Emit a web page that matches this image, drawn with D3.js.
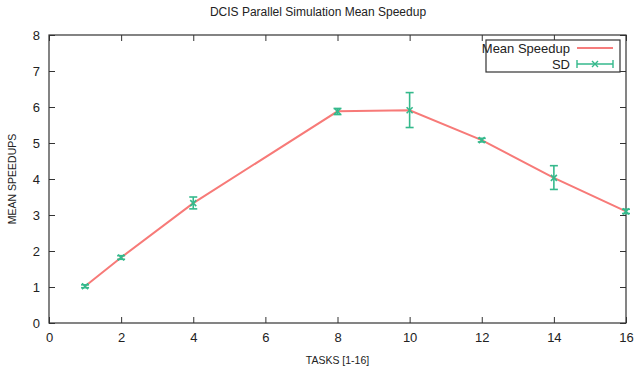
<!DOCTYPE html>
<html>
<head>
<meta charset="utf-8">
<script src="https://cdn.jsdelivr.net/npm/d3@7"></script>
<style>
  body { margin: 0; background: #fff; }
  text { font-family: "Liberation Sans", Arial, sans-serif; fill: #222; }
</style>
</head>
<body>
<svg id="chart"></svg>
<script>
var viewWidth = 634;
var viewHeight = 373;

// data
var tasks = [1, 2, 4, 8, 10, 12, 14, 16];
var meanSpeedup = [1.02, 1.82, 3.33, 5.88, 5.91, 5.08, 4.03, 3.1];
var sdLow = [0.98, 1.77, 3.17, 5.79, 5.43, 5.03, 3.71, 3.04];
var sdHigh = [1.06, 1.87, 3.5, 5.96, 6.4, 5.13, 4.37, 3.16];
var xTicks = [0, 2, 4, 6, 8, 10, 12, 14, 16];
var yTicks = [0, 1, 2, 3, 4, 5, 6, 7, 8];

var margin = {top: 35, right: 8, bottom: 50, left: 49};
var width = viewWidth - margin.left - margin.right;
var height = viewHeight - margin.top - margin.bottom;

var lineColor = "#f77a78";
var sdColor = "#35b98c";

var svg = d3.select("#chart")
    .attr("width", viewWidth)
    .attr("height", viewHeight);

var g = svg.append("g")
    .attr("transform", "translate(" + margin.left + "," + margin.top + ")");

var x = d3.scaleLinear().domain([0, 16]).range([0, width]);
var y = d3.scaleLinear().domain([0, 8]).range([height, 0]);

var points = tasks.map(function(t, i) {
  return {x: t, y: meanSpeedup[i], lo: sdLow[i], hi: sdHigh[i]};
});

// axes with inward ticks on all four sides
function styleAxis(sel) {
  sel.select(".domain").remove();
  sel.selectAll("line").attr("stroke", "#333");
  sel.selectAll("text").style("font-size", "13px").style("fill", "#222");
}

g.append("g")
    .attr("transform", "translate(0," + height + ")")
    .call(d3.axisBottom(x).tickValues(xTicks).tickSize(-6).tickPadding(10))
    .call(styleAxis);

g.append("g")
    .call(d3.axisLeft(y).tickValues(yTicks).tickSize(-6).tickPadding(9))
    .call(styleAxis);

g.append("g")
    .call(d3.axisTop(x).tickValues(xTicks).tickSize(-6).tickFormat(""))
    .call(styleAxis);

g.append("g")
    .attr("transform", "translate(" + width + ",0)")
    .call(d3.axisRight(y).tickValues(yTicks).tickSize(-6).tickFormat(""))
    .call(styleAxis);

g.append("rect")
    .attr("width", width)
    .attr("height", height)
    .attr("fill", "none")
    .attr("stroke", "#333")
    .attr("stroke-width", 1.2);

// mean line
var line = d3.line()
    .x(function(d) { return x(d.x); })
    .y(function(d) { return y(d.y); });

g.append("path")
    .datum(points)
    .attr("d", line)
    .attr("fill", "none")
    .attr("stroke", lineColor)
    .attr("stroke-width", 2);

// error bars
var bars = g.selectAll(".err")
    .data(points)
  .enter().append("g")
    .attr("class", "err")
    .attr("stroke", sdColor)
    .attr("stroke-width", 1.6);

bars.append("line")
    .attr("x1", function(d) { return x(d.x); })
    .attr("x2", function(d) { return x(d.x); })
    .attr("y1", function(d) { return y(d.lo); })
    .attr("y2", function(d) { return y(d.hi); });
bars.append("line")
    .attr("x1", function(d) { return x(d.x) - 4; })
    .attr("x2", function(d) { return x(d.x) + 4; })
    .attr("y1", function(d) { return y(d.lo); })
    .attr("y2", function(d) { return y(d.lo); });
bars.append("line")
    .attr("x1", function(d) { return x(d.x) - 4; })
    .attr("x2", function(d) { return x(d.x) + 4; })
    .attr("y1", function(d) { return y(d.hi); })
    .attr("y2", function(d) { return y(d.hi); });
bars.append("path")
    .attr("d", function(d) {
      var cx = x(d.x), cy = y(d.y);
      return "M" + (cx - 3) + "," + (cy - 3) + "L" + (cx + 3) + "," + (cy + 3) +
             "M" + (cx - 3) + "," + (cy + 3) + "L" + (cx + 3) + "," + (cy - 3);
    });

// title and labels
svg.append("text")
    .attr("x", 318)
    .attr("y", 16)
    .attr("text-anchor", "middle")
    .style("font-size", "12px")
    .text("DCIS Parallel Simulation Mean Speedup");

svg.append("text")
    .attr("x", margin.left + width / 2)
    .attr("y", 364)
    .attr("text-anchor", "middle")
    .style("font-size", "10.5px")
    .text("TASKS [1-16]");

svg.append("text")
    .attr("transform", "translate(16," + (margin.top + height / 2) + ") rotate(-90)")
    .attr("text-anchor", "middle")
    .style("font-size", "10.5px")
    .text("MEAN SPEEDUPS");

// legend
var legend = svg.append("g");
legend.append("rect")
    .attr("x", 486)
    .attr("y", 40)
    .attr("width", 134)
    .attr("height", 32)
    .attr("fill", "#fff")
    .attr("stroke", "#333")
    .attr("stroke-width", 1.2);

legend.append("text")
    .attr("x", 570)
    .attr("y", 53)
    .attr("text-anchor", "end")
    .style("font-size", "13px")
    .text("Mean Speedup");
legend.append("line")
    .attr("x1", 577).attr("x2", 613)
    .attr("y1", 48).attr("y2", 48)
    .attr("stroke", "#f25050")
    .attr("stroke-width", 1.6);

legend.append("text")
    .attr("x", 570)
    .attr("y", 69)
    .attr("text-anchor", "end")
    .style("font-size", "13px")
    .text("SD");
var lg = legend.append("g")
    .attr("stroke", sdColor)
    .attr("stroke-width", 1.4);
lg.append("line").attr("x1", 577).attr("x2", 613).attr("y1", 64).attr("y2", 64);
lg.append("line").attr("x1", 577).attr("x2", 577).attr("y1", 60).attr("y2", 68);
lg.append("line").attr("x1", 613).attr("x2", 613).attr("y1", 60).attr("y2", 68);
lg.append("path").attr("d", "M592,61L598,67M592,67L598,61");
</script>
</body>
</html>
